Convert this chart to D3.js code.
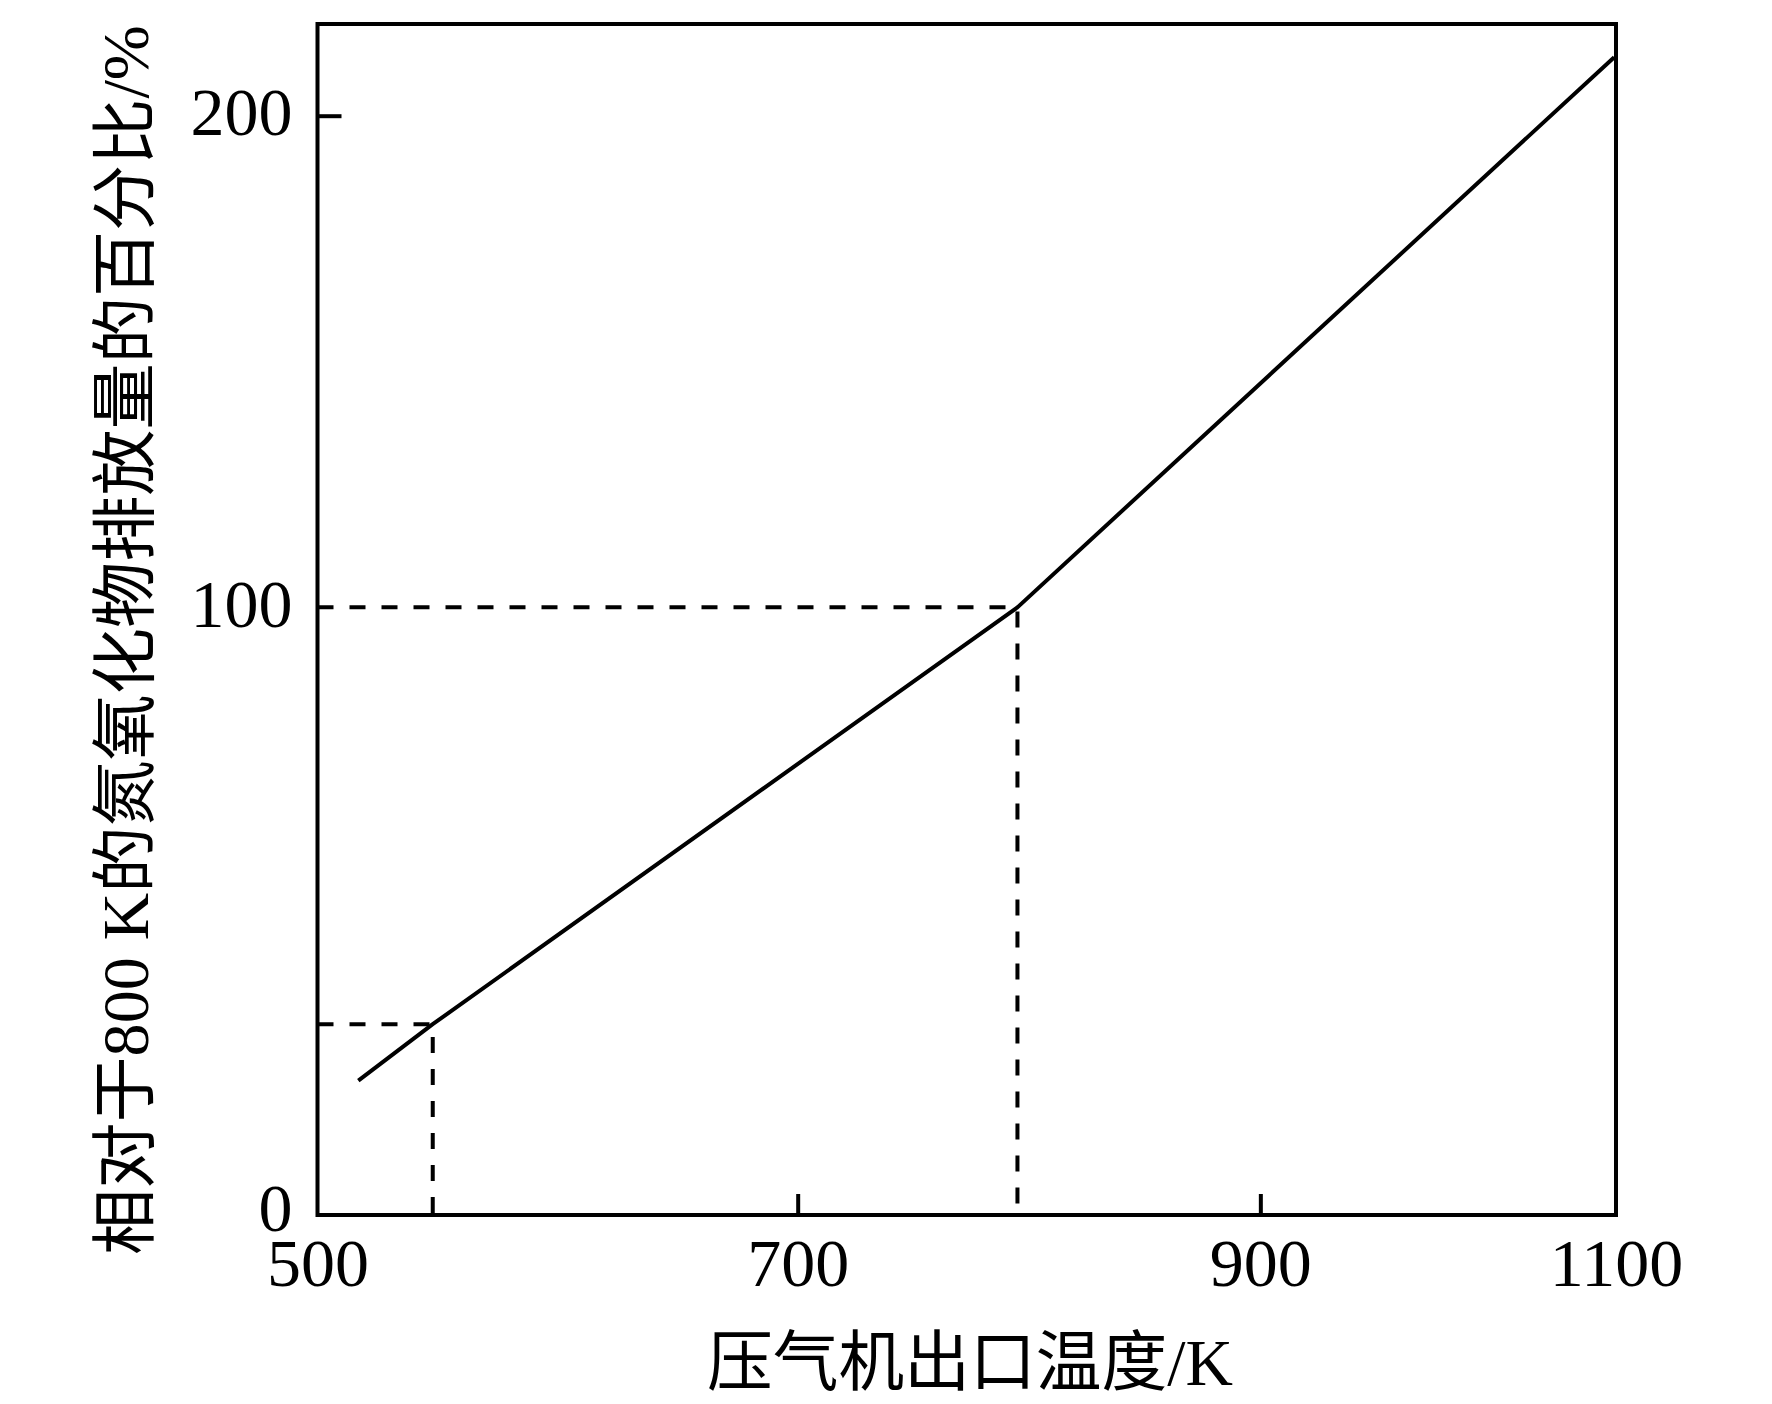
<!DOCTYPE html>
<html>
<head>
<meta charset="utf-8">
<script src="https://cdn.jsdelivr.net/npm/d3@7"></script>
<style>
  body { margin: 0; background: #fff; }
  svg { display: block; }
  text { font-family: "Liberation Serif", "Noto Sans CJK SC", serif; fill: #000; }
</style>
</head>
<body>
<svg id="chart"></svg>
<script>
// data
const xTicks = [500, 700, 900, 1100];
const yTicks = [0, 100, 200];
const temps = [517, 548, 795, 1099];      // compressor outlet temperature, K
const noxPct = [22.1, 31.4, 100, 211.9];  // NOx relative to 800 K, %
const guideTemps = [548, 795];
const guidePct = [31.4, 100];
const xLabel = "压气机出口温度/K";
const yLabel = "相对于800 K的氮氧化物排放量的百分比/%";

const width = 1772;
const height = 1404;
const plot = { left: 317.5, right: 1616, top: 24, bottom: 1215 };
const w = plot.right - plot.left, h = plot.bottom - plot.top;

const svg = d3.select("#chart").attr("width", width).attr("height", height);

// the printed axes are not evenly spaced, so use piecewise scales through the ticks
const x = d3.scaleLinear()
  .domain(xTicks)
  .range([0, 0.3698, 0.7261, 1].map((f) => plot.left + f * w));
const y = d3.scaleLinear()
  .domain(yTicks)
  .range([0, 0.5102, 0.923].map((f) => plot.bottom - f * h));

//axes
const xAxis = svg.append("g")
  .attr("transform", `translate(0,${plot.bottom})`)
  .call(d3.axisBottom(x).tickValues(xTicks).tickFormat(d3.format("d"))
    .tickSizeInner(-21).tickSizeOuter(0).tickPadding(0));
xAxis.select(".domain").remove();
xAxis.selectAll("line")
  .attr("stroke", "#000").attr("stroke-width", 4)
  .attr("display", (d) => (d === 700 || d === 900 ? null : "none"));
xAxis.selectAll("text")
  .attr("y", 71).attr("dy", 0)
  .attr("font-size", 68)
  .style("font-family", "Liberation Serif");

const yAxis = svg.append("g")
  .attr("transform", `translate(${plot.left},0)`)
  .call(d3.axisLeft(y).tickValues(yTicks).tickFormat(d3.format("d"))
    .tickSizeInner(-24).tickSizeOuter(0).tickPadding(25));
yAxis.select(".domain").remove();
yAxis.selectAll("line")
  .attr("stroke", "#000").attr("stroke-width", 4)
  .attr("display", (d) => (d === 200 ? null : "none"));
yAxis.selectAll("text")
  .attr("dy", 0).attr("y", (d) => (d === 0 ? 15 : 19))
  .attr("font-size", 68)
  .style("font-family", "Liberation Serif");

// frame
svg.append("rect")
  .attr("x", plot.left).attr("y", plot.top)
  .attr("width", w).attr("height", h)
  .attr("fill", "none")
  .attr("stroke", "#000")
  .attr("stroke-width", 4);

// dashed guide lines
const guides = guideTemps.map((t, i) => [t, guidePct[i]]);
svg.selectAll(".guide")
  .data(guides)
  .join("path")
  .attr("class", "guide")
  .attr("d", (d) => `M${x(500)},${y(d[1])}H${x(d[0])}V${y(0)}`)
  .attr("fill", "none")
  .attr("stroke", "#000")
  .attr("stroke-width", 4)
  .attr("stroke-dasharray", "16,16");

// curve
const pts = temps.map((t, i) => [t, noxPct[i]]);
svg.append("path")
  .datum(pts)
  .attr("d", d3.line().x((d) => x(d[0])).y((d) => y(d[1])))
  .attr("fill", "none")
  .attr("stroke", "#000")
  .attr("stroke-width", 4)
  .attr("stroke-linejoin", "round");

//labels
svg.append("text")
  .attr("x", 970)
  .attr("y", 1385)
  .attr("text-anchor", "middle")
  .attr("font-size", 66)
  .attr("textLength", 526)
  .attr("lengthAdjust", "spacingAndGlyphs")
  .text(xLabel);

svg.append("text")
  .attr("transform", "translate(148,640) rotate(-90)")
  .attr("text-anchor", "middle")
  .attr("font-size", 66)
  .attr("textLength", 1230)
  .attr("lengthAdjust", "spacingAndGlyphs")
  .text(yLabel);
</script>
</body>
</html>
